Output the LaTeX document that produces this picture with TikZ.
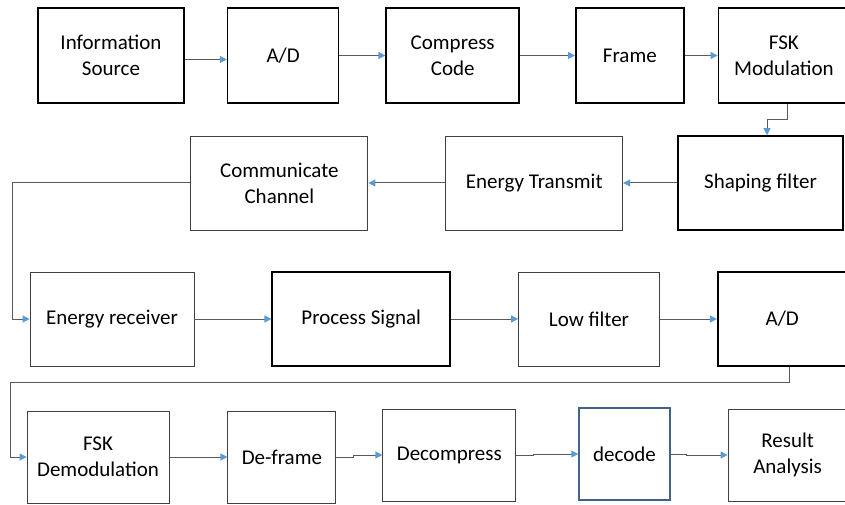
\documentclass[tikz,border=0pt]{standalone}
\usepackage{fontspec}
\setmainfont{Carlito}
\usepackage{xcolor}
\definecolor{flowline}{HTML}{595959}
\definecolor{flowtip}{HTML}{5B9BD5}
\definecolor{thinedge}{HTML}{404040}
\definecolor{decodeedge}{HTML}{41638A}
\usepackage{tikz}
\usetikzlibrary{arrows.meta, positioning}

\begin{document}
\begin{tikzpicture}[
    x=1pt, y=1pt,
    box/.style={rectangle, minimum height=94pt, font=\fontsize{21}{26}\selectfont, align=center, inner sep=2pt},
    strongbox/.style={box, draw=black, line width=1.6pt},
    lightbox/.style={box, draw=thinedge, line width=0.9pt},
    decodebox/.style={box, draw=decodeedge, line width=1.4pt},
    arrow/.style={-{Triangle[length=7pt, width=7pt, color=flowtip]}, line width=1pt, draw=flowline}
]
\useasboundingbox (0,0) rectangle (845,504);

% Row 1: transmitter chain
\node[strongbox, minimum width=146pt, minimum height=95pt] (info) at (111,448.5) {Information\\Source};
\node[strongbox, minimum width=111pt, minimum height=95pt, right=42pt of info] (ad) {A/D};
\node[strongbox, minimum width=133pt, minimum height=95pt, right=46pt of ad] (compress) {Compress\\Code};
\node[strongbox, minimum width=108pt, minimum height=95pt, right=55pt of compress] (frame) {Frame};
\node[strongbox, minimum width=131pt, minimum height=95pt, right=33pt of frame] (fsk) {FSK\\Modulation};

% Row 2: back to the channel
\node[strongbox, minimum width=165pt] (shaping) at (760.5,321) {Shaping filter};
\node[lightbox, minimum width=177pt, left=54pt of shaping] (transmit) {Energy Transmit};
\node[lightbox, minimum width=177pt, left=77pt of transmit] (channel) {Communicate\\Channel};

% Row 3: receiver front end
\node[lightbox, minimum width=164pt] (receiver) at (112,185) {Energy receiver};
\node[strongbox, minimum width=178pt, right=77pt of receiver] (process) {Process Signal};
\node[lightbox, minimum width=141pt, right=67pt of process] (lowpass) {Low filter};
\node[strongbox, minimum width=129pt, right=57pt of lowpass] (adrx) {A/D};

% Row 4: decoding
\node[lightbox, minimum width=142pt, minimum height=92pt] (demod) at (98,47) {FSK\\Demodulation};
\node[lightbox, minimum width=108pt, minimum height=92pt, right=58pt of demod] (deframe) {De-frame};
\node[lightbox, minimum width=133pt, minimum height=92pt, right=46pt of deframe, yshift=2pt] (decompress) {Decompress};
\node[decodebox, minimum width=91pt, minimum height=92pt, right=62pt of decompress, yshift=1pt] (decode) {decode};
\node[lightbox, minimum width=119pt, minimum height=92pt, right=57pt of decode, yshift=-1pt] (result) {Result\\Analysis};

% Arrows
\draw[arrow] ([yshift=-4pt]info.east) -- ([yshift=-4pt]ad.west);
\draw[arrow] (ad.east) -- (compress.west);
\draw[arrow] (compress.east) -- (frame.west);
\draw[arrow] (frame.east) -- (fsk.west);
\draw[arrow] ([xshift=3.5pt]fsk.south) -- ++(0,-16) -| ([xshift=6.5pt]shaping.north);
\draw[arrow] (shaping.west) -- (transmit.east);
\draw[arrow] (transmit.west) -- (channel.east);
\draw[arrow] (channel.west) -| ([xshift=-17pt]receiver.west) -- (receiver.west);
\draw[arrow] (receiver.east) -- (process.west);
\draw[arrow] (process.east) -- (lowpass.west);
\draw[arrow] (lowpass.east) -- (adrx.west);
\draw[arrow] ([xshift=7.5pt]adrx.south) -- ++(0,-16) -| ([xshift=-16pt]demod.west) -- (demod.west);
\draw[arrow] (demod.east) -- (deframe.west);
\draw[arrow] (deframe.east) -- ++(17,0) |- (decompress.west);
\draw[arrow] (decompress.east) -- ++(17,0) |- (decode.west);
\draw[arrow] (decode.east) -- ++(16,0) |- (result.west);

\end{tikzpicture}
\end{document}
